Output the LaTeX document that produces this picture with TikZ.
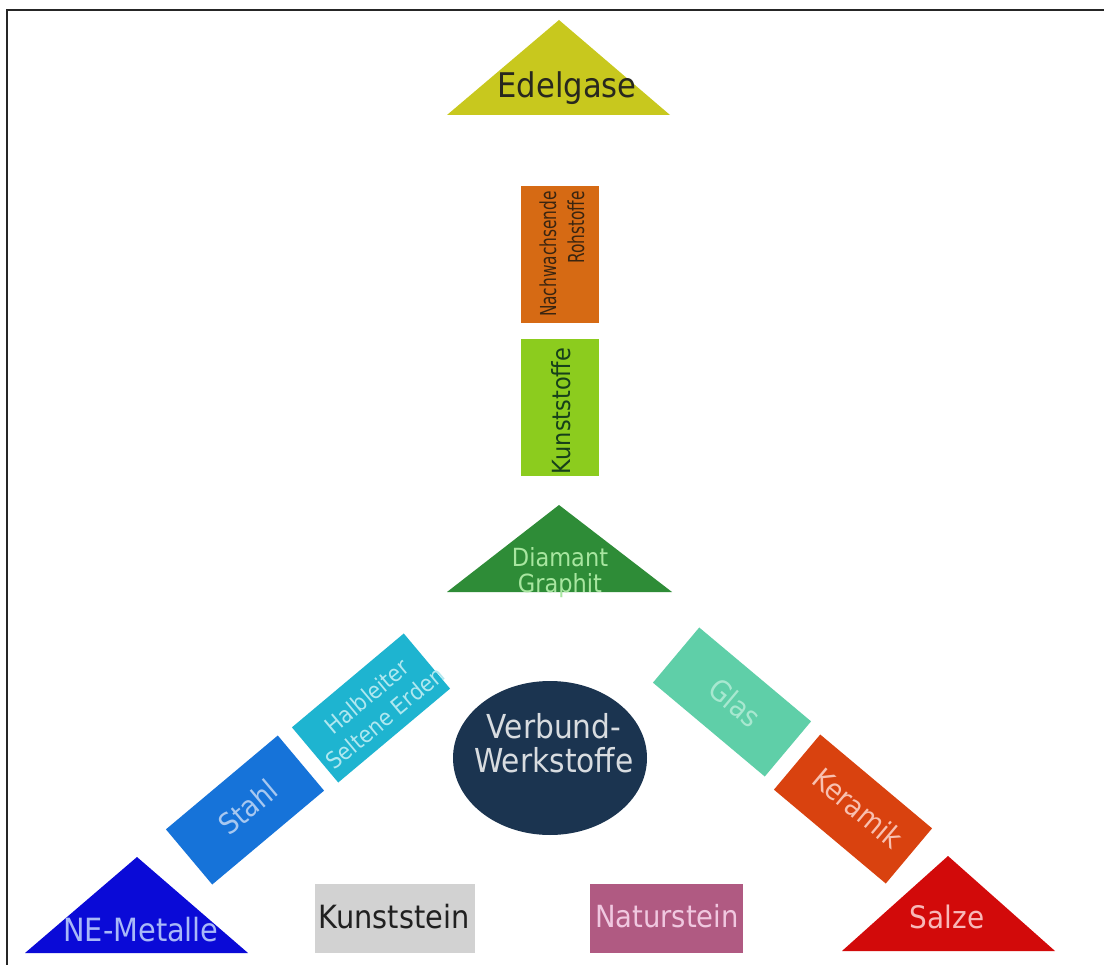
\documentclass[tikz,border=0pt]{standalone}
\usepackage{fontspec}
\setmainfont{DejaVu Sans}[FakeStretch=0.9]
\newfontfamily\narrowfont{DejaVu Sans}[FakeStretch=0.7]
\usetikzlibrary{shapes.geometric}
\definecolor{cEdel}{RGB}{200,200,30}
\definecolor{cNach}{RGB}{214,106,20}
\definecolor{cKunstst}{RGB}{140,204,30}
\definecolor{cDia}{RGB}{46,140,55}
\definecolor{cHalb}{RGB}{30,180,208}
\definecolor{cStahl}{RGB}{22,115,217}
\definecolor{cNE}{RGB}{10,10,215}
\definecolor{cGlas}{RGB}{95,207,168}
\definecolor{cKer}{RGB}{217,66,15}
\definecolor{cSalz}{RGB}{210,10,10}
\definecolor{cKstein}{RGB}{210,210,210}
\definecolor{cNstein}{RGB}{176,90,130}
\definecolor{cVerb}{RGB}{27,52,80}
\begin{document}
\begin{tikzpicture}[x=1pt,y=-1pt,
  lbl/.style={inner sep=0pt,font=\fontsize{#1}{#1}\selectfont},
  rbox/.style={inner sep=0pt,minimum width=146pt,minimum height=72pt}]
\useasboundingbox (0,0) rectangle (1104,965);
\fill[white] (0,0) rectangle (1104,965);
% frame
\coordinate (fl) at (7,965);
\coordinate (fc) at (7,10);
\coordinate (fr) at (1104,10);
\draw[line width=2.2pt,black!85] (fl) -- (fc) -- (fr);
% triangles
\fill[cEdel] (559,20) -- (670,115) -- (447,115) -- cycle;
\node[lbl=34,anchor=base,text={rgb,255:red,40;green,40;blue,30}] (edel) at (567,98) {Edelgase};
\fill[cDia] (559,505) -- (672,592) -- (447,592) -- cycle;
\node[inner sep=0pt,font=\fontsize{25}{25}\selectfont,anchor=base,align=center,text={rgb,255:red,168;green,230;blue,160}] (dia) at (560,592) {Diamant\\Graphit};
\fill[cNE] (137,857) -- (248,953) -- (25,953) -- cycle;
\node[lbl=32,anchor=base,text={rgb,255:red,168;green,184;blue,248}] (ne) at (141,941) {NE-Metalle};
\fill[cSalz] (948,856) -- (1055,951) -- (842,951) -- cycle;
\node[lbl=31,anchor=base,text={rgb,255:red,248;green,184;blue,184}] (salz) at (947,928) {Salze};
% vertical boxes
\node[fill=cNach,inner sep=0pt,minimum width=78pt,minimum height=137pt] (nach) at (560,254.5) {};
\node[inner sep=0pt,font=\narrowfont\fontsize{22}{28}\selectfont,rotate=90,align=right,text={rgb,255:red,58;green,37;blue,16}] (nachT) at (562,254) {Nachwachsende\\Rohstoffe};
\node[fill=cKunstst,inner sep=0pt,minimum width=78pt,minimum height=137pt] (kunstst) at (560,407.5) {};
\node[lbl=25,rotate=90,text={rgb,255:red,23;green,64;blue,26}] (kunststT) at (561,411) {Kunststoffe};
% diagonal boxes
\node[rbox,fill=cHalb,rotate=40] (halb) at (371,708) {};
\node[inner sep=0pt,font=\fontsize{23}{28}\selectfont,rotate=40,align=center,text={rgb,255:red,176;green,232;blue,240}] (halbT) at (376,707) {Halbleiter\\Seltene Erden};
\node[rbox,fill=cStahl,rotate=40] (stahl) at (245,810) {};
\node[lbl=29,rotate=40,text={rgb,255:red,168;green,200;blue,240}] (stahlT) at (248,807) {Stahl};
\node[rbox,fill=cGlas,rotate=-40] (glas) at (732,702) {};
\node[lbl=29,rotate=-40,text={rgb,255:red,168;green,232;blue,208}] (glasT) at (735,703) {Glas};
\node[rbox,fill=cKer,rotate=-40] (ker) at (853,809) {};
\node[lbl=29,rotate=-40,text={rgb,255:red,248;green,192;blue,176}] (kerT) at (858,808) {Keramik};
% ellipse
\node[ellipse,fill=cVerb,inner sep=0pt,minimum width=194pt,minimum height=154pt] (verb) at (550,758) {};
\node[inner sep=0pt,font=\fontsize{33}{34}\selectfont,anchor=base,align=center,text={rgb,255:red,216;green,220;blue,224}] (verbT) at (554,772) {Verbund-\\Werkstoffe};
% bottom boxes
\node[fill=cKstein,inner sep=0pt,minimum width=160pt,minimum height=69pt] (kstein) at (395,918.5) {};
\node[lbl=32,anchor=base,text={rgb,255:red,32;green,32;blue,32}] (ksteinT) at (394,928) {Kunststein};
\node[fill=cNstein,inner sep=0pt,minimum width=153pt,minimum height=69pt] (nstein) at (666.5,918.5) {};
\node[lbl=30.5,anchor=base,text={rgb,255:red,240;green,200;blue,224}] (nsteinT) at (667,927) {Naturstein};
\end{tikzpicture}
\end{document}
